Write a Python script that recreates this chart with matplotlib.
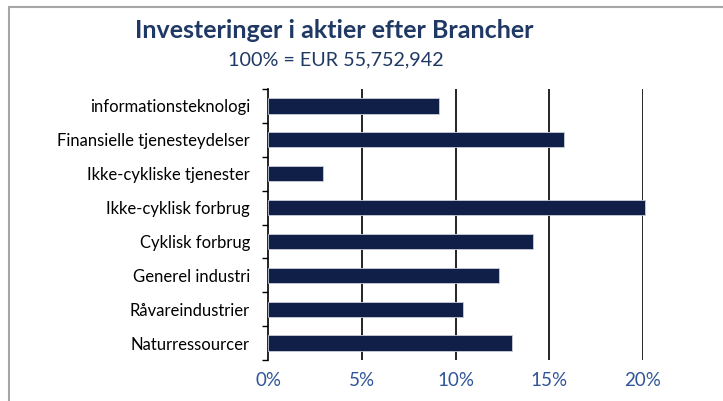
import matplotlib.pyplot as plt
from matplotlib.patches import Rectangle
from matplotlib.ticker import FixedLocator, FuncFormatter

plt.rcParams['font.family'] = ['Lato', 'DejaVu Sans']

# data, bottom to top
sectors = ['Naturressourcer', 'Råvareindustrier', 'Generel industri', 'Cyklisk forbrug',
           'Ikke-cyklisk forbrug', 'Ikke-cykliske tjenester', 'Finansielle tjenesteydelser',
           'informationsteknologi']
shares = [13.0, 10.4, 12.3, 14.15, 20.1, 2.95, 15.8, 9.1]
xticks = [0, 5, 10, 15, 20]

navy = '#0f1f48'
title_col = '#1f3864'
tick_col = '#2f5597'

fig = plt.figure(figsize=(7.23, 4.01), dpi=100)
W, H = 723, 401

# grey frame around the chart (only top and left visible)
fig.patches.append(Rectangle((9 / W, -0.1), 1.2, (H - 7) / H + 0.1, transform=fig.transFigure,
                             fill=False, edgecolor='#a6a6a6', linewidth=1.5))

ax = fig.add_axes([268 / W, 41 / H, 375 / W, 271 / H])
y = list(range(len(sectors)))
ax.barh(y, shares, height=0.45, color=navy, edgecolor='#c9ced8', linewidth=0.6,
        zorder=3, clip_on=False)

ax.set_xlim(0, 20)
ax.set_ylim(-0.5, len(sectors) - 0.5)
for v in xticks[1:]:
    ax.axvline(v, color='black', linewidth=1.2, zorder=1)

ax.set_yticks(y)
ax.set_yticklabels(sectors, fontsize=12)
ax.yaxis.set_minor_locator(FixedLocator([i - 0.5 for i in range(len(sectors) + 1)]))
ax.tick_params(axis='y', which='major', length=0, pad=13)
ax.tick_params(axis='y', which='minor', length=4, width=1, color='black')

ax.set_xticks(xticks)
ax.xaxis.set_major_formatter(FuncFormatter(lambda v, p: f'{v:.0f}%'))
ax.tick_params(axis='x', length=0, pad=9, labelsize=13.5, labelcolor=tick_col)

for s in ['top', 'right', 'bottom']:
    ax.spines[s].set_visible(False)
ax.spines['left'].set_color('black')
ax.spines['left'].set_linewidth(1.2)

fig.text(334 / W, 1 - 30 / H, 'Investeringer i aktier efter Brancher', ha='center', va='center',
         fontsize=18, fontweight='bold', color=title_col)
fig.text(336 / W, 1 - 60 / H, '100% = EUR 55,752,942', ha='center', va='center',
         fontsize=14.2, color=title_col)

fig.savefig('out.png', dpi=100)
